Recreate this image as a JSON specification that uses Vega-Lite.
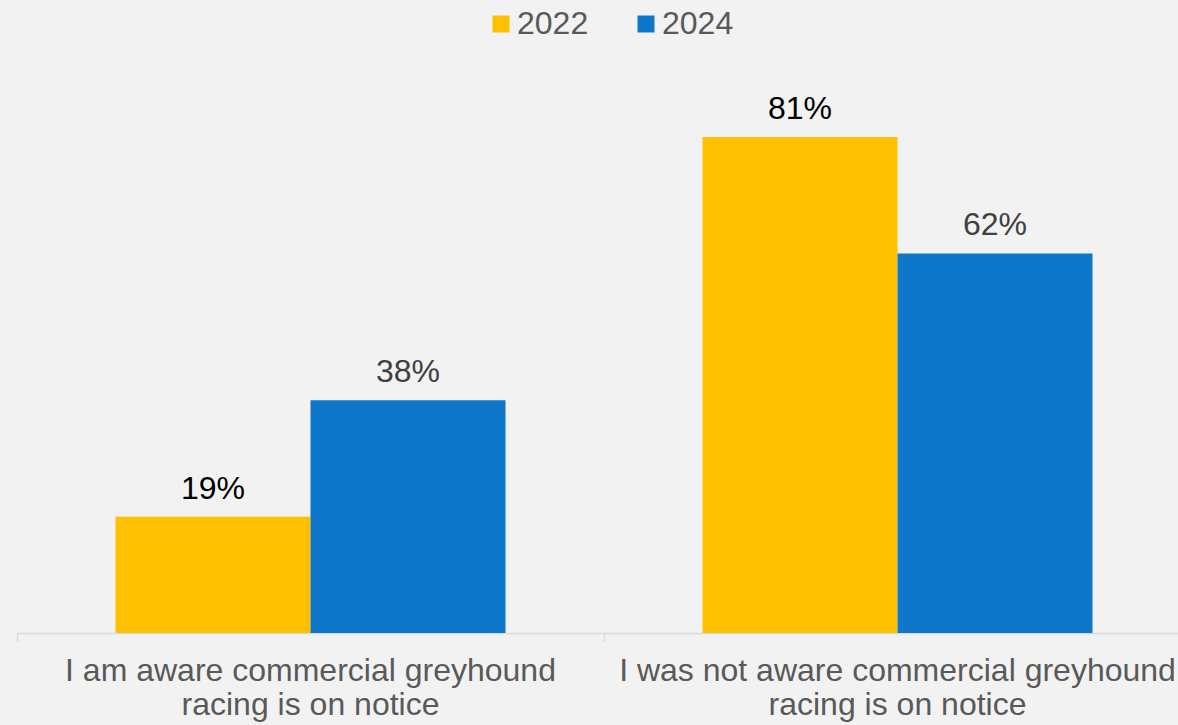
{
  "$schema": "https://vega.github.io/schema/vega-lite/v6.json",
  "autosize": "none",
  "width": 1161,
  "height": 551,
  "padding": {"left": 17, "top": 82, "right": 0, "bottom": 92},
  "background": "#f2f2f2",
  "config": {
    "view": {"stroke": null},
    "font": "Liberation Sans"
  },
  "data": {
    "values": [
      {"category": "I am aware commercial greyhound racing is on notice", "year": "2022", "value": 0.19},
      {"category": "I am aware commercial greyhound racing is on notice", "year": "2024", "value": 0.38},
      {"category": "I was not aware commercial greyhound racing is on notice", "year": "2022", "value": 0.81},
      {"category": "I was not aware commercial greyhound racing is on notice", "year": "2024", "value": 0.62}
    ]
  },
  "encoding": {
    "x": {
      "field": "category",
      "type": "nominal",
      "sort": null,
      "scale": {"range": [0, 1174], "paddingInner": 0.3356, "paddingOuter": 0.1678},
      "axis": {
        "title": null,
        "labelAngle": 0,
        "labelFontSize": 32,
        "labelColor": "#595959",
        "labelFont": "Liberation Sans",
        "labelLimit": 0,
        "labelLineHeight": 34,
        "labelPadding": 14,
        "labelExpr": "datum.value == 'I am aware commercial greyhound racing is on notice' ? ['I am aware commercial greyhound', 'racing is on notice'] : ['I was not aware commercial greyhound', 'racing is on notice']",
        "domainColor": "#d9d9d9",
        "domainWidth": 1.5,
        "tickColor": "#d9d9d9",
        "tickWidth": 1.5,
        "tickSize": 8,
        "bandPosition": -0.2513,
        "grid": false
      }
    },
    "xOffset": {"field": "year", "type": "nominal", "scale": {"paddingInner": 0, "paddingOuter": 0}},
    "y": {
      "field": "value",
      "type": "quantitative",
      "scale": {"domain": [0, 0.9]},
      "axis": null
    }
  },
  "layer": [
    {
      "mark": {"type": "bar"},
      "encoding": {
        "fill": {
          "field": "year",
          "type": "nominal",
          "scale": {"domain": ["2022", "2024"], "range": ["#FFC000", "#0E77CA"]},
          "legend": {
            "title": null,
            "orient": "none",
            "direction": "horizontal",
            "legendX": 468,
            "legendY": -74,
            "labelFontSize": 32,
            "labelColor": "#595959",
            "labelFont": "Liberation Sans",
            "symbolType": "square",
            "symbolSize": 289,
            "symbolStrokeWidth": 0,
            "labelOffset": 0,
            "columnPadding": 41
          }
        }
      }
    },
    {
      "mark": {"type": "text", "fontSize": 32, "font": "Liberation Sans", "baseline": "alphabetic", "dy": -18},
      "encoding": {
        "text": {"field": "value", "type": "quantitative", "format": ".0%"},
        "color": {
          "condition": {"test": "datum.year === '2022'", "value": "#000000"},
          "value": "#404040"
        }
      }
    }
  ]
}
